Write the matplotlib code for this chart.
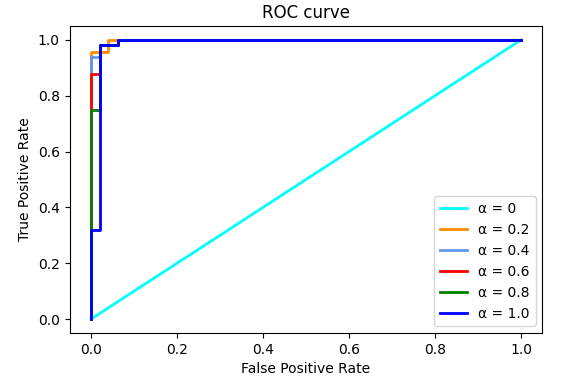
import matplotlib
matplotlib.use("Agg")
import matplotlib.pyplot as plt

labels = ["α = 0", "α = 0.2", "α = 0.4", "α = 0.6", "α = 0.8", "α = 1.0"]
colors = ["cyan", "darkorange", "cornflowerblue", "red", "green", "blue"]

fpr_list = [
    [0.0, 1.0],
    [0.0, 0.0, 0.04, 0.04, 1.0],
    [0.0, 0.0, 0.02, 0.02, 0.063, 0.063, 1.0],
    [0.0, 0.0, 0.02, 0.02, 0.063, 0.063, 1.0],
    [0.0, 0.0, 0.02, 0.02, 0.063, 0.063, 1.0],
    [0.0, 0.0, 0.02, 0.02, 0.063, 0.063, 1.0],
]
tpr_list = [
    [0.0, 1.0],
    [0.0, 0.955, 0.955, 1.0, 1.0],
    [0.0, 0.938, 0.938, 0.98, 0.98, 1.0, 1.0],
    [0.0, 0.878, 0.878, 0.98, 0.98, 1.0, 1.0],
    [0.0, 0.75, 0.75, 0.98, 0.98, 1.0, 1.0],
    [0.0, 0.32, 0.32, 0.98, 0.98, 1.0, 1.0],
]

fig = plt.figure(figsize=(5.61, 3.87), dpi=100)
ax = fig.add_axes([0.124, 0.1395, 0.843, 0.7935])
for fpr, tpr, c, lab in zip(fpr_list, tpr_list, colors, labels):
    ax.plot(fpr, tpr, color=c, lw=2, label=lab)
ax.set_xlabel("False Positive Rate")
ax.set_ylabel("True Positive Rate")
ax.set_title("ROC curve")
ax.legend(loc="lower right")
fig.savefig("out.png", dpi=100)
